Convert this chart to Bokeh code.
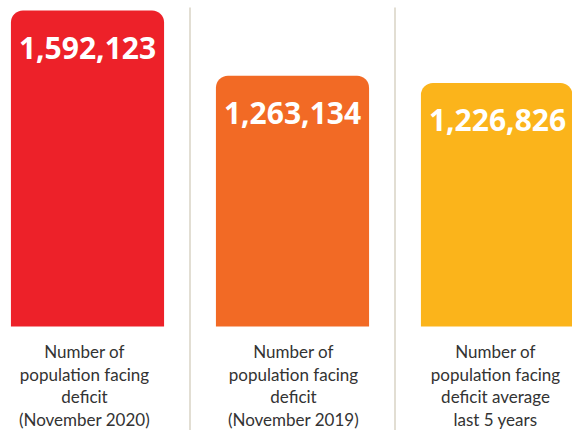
from bokeh.plotting import figure
from bokeh.models import ColumnDataSource, Range1d
from bokeh.core.properties import value
from bokeh.embed import file_html
from bokeh.resources import INLINE

# ---- data ----
categories = [
    "Number of\npopulation facing\ndeficit\n(November 2020)",
    "Number of\npopulation facing\ndeficit\n(November 2019)",
    "Number of\npopulation facing\ndeficit average\nlast 5 years",
]
values = [1592123, 1263134, 1226826]
value_labels = ["1,592,123", "1,263,134", "1,226,826"]
colors = ["#ED2129", "#F26A25", "#FBB41B"]

# ---- layout (pixels) ----
W, H = 572, 430
top_px, base_px = 10, 326          # tallest bar top / baseline, from figure top
sep_top_px = 7
px_per_unit = values[0] / (base_px - top_px)
label_dx = [-3, 1, -2]            # horizontal offsets of captions
line_gap = 22.5
first_line = 25

idx = list(range(len(values)))
x_start = -87 / 205.0
x_end = x_start + W / 205.0
y_lo = -(H - base_px) * px_per_unit
y_hi = base_px * px_per_unit

p = figure(width=W, height=H, output_backend="svg", toolbar_location=None,
           x_range=Range1d(x_start, x_end), y_range=Range1d(y_lo, y_hi),
           min_border=0, outline_line_color=None, background_fill_color="white",
           border_fill_color="white")
p.axis.visible = False
p.grid.visible = False

src = ColumnDataSource(dict(x=idx, top=values, color=colors, lab=value_labels))
p.vbar(x="x", top="top", bottom=0, width=0.747, color="color", source=src,
       line_color=None, border_radius=(12, 12, 0, 0))

seps = [i + 0.5 for i in idx[:-1]]
p.segment(x0=seps, x1=seps, y0=[y_lo] * len(seps),
          y1=[(base_px - sep_top_px) * px_per_unit] * len(seps),
          line_color="#E2DED3", line_width=2)

p.text(x="x", y="top", text="lab", source=src, y_offset=37,
       text_align="center", text_baseline="middle", text_color="white",
       text_font=value("Open Sans"), text_font_style="bold",
       text_font_size="30px")

for i, lab in enumerate(categories):
    lines = lab.split("\n")
    for j, ln in enumerate(lines):
        p.text(x=[idx[i]], y=[0], text=[ln], x_offset=label_dx[i],
               y_offset=first_line + j * line_gap,
               text_align="center", text_baseline="middle",
               text_color="#333333", text_font=value("Lato"),
               text_font_size="17px")

open("out.html", "w").write(file_html(p, INLINE))
